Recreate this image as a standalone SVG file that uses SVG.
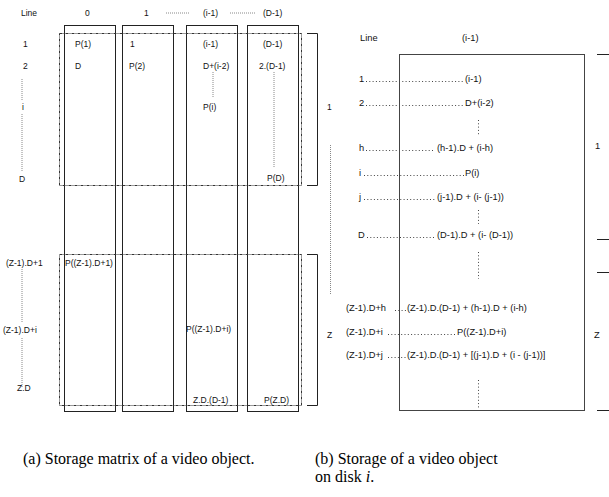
<svg xmlns="http://www.w3.org/2000/svg" width="609" height="497" viewBox="0 0 609 497">
<style>
.t{font-family:"Liberation Sans",Arial,sans-serif;font-size:8.5px;fill:#111}
.r{font-family:"Liberation Sans",Arial,sans-serif;font-size:9.3px;fill:#111}
.cap{font-family:"Liberation Serif","Times New Roman",serif;font-size:16px;fill:#000}
.col{fill:none;stroke:#222;stroke-width:1}
.dash{fill:none;stroke:#333;stroke-width:1;stroke-dasharray:3,1,1,1}
.br{fill:none;stroke:#222;stroke-width:1}
.vd{stroke:#888;stroke-width:1;stroke-dasharray:1,1;fill:none}
.ld{stroke:#444;stroke-width:1;stroke-dasharray:1,2.3;fill:none}
</style>
<rect width="609" height="497" fill="#fff"/>

<g id="matrix">
  <g id="header-left">
    <text class="t" x="21" y="16">Line</text>
    <text class="t" x="85" y="16">0</text>
    <text class="t" x="144" y="16">1</text>
    <text class="t" x="203" y="16">(i-1)</text>
    <text class="t" x="263" y="16">(D-1)</text>
  </g>
  <g id="columns">
    <rect class="col" x="64.5" y="25.5" width="51" height="386"/>
    <rect class="col" x="122.5" y="25.5" width="51" height="386"/>
    <rect class="col" x="186.5" y="25.5" width="51" height="386"/>
    <rect class="col" x="247.5" y="25.5" width="51" height="386"/>
  </g>
  <g id="group1">
    <rect class="dash" x="59.5" y="33.5" width="242" height="152"/>
    <path class="br" d="M307 33.5H317.5V185.5H307"/>
    <text class="t" x="327" y="110">1</text>
  </g>
  <g id="groupZ">
    <rect class="dash" x="59.5" y="254.5" width="242" height="151"/>
    <path class="br" d="M307 254.5H317.5V405.5H307"/>
    <text class="t" x="327" y="338">Z</text>
  </g>
  <g id="row-labels">
    <text class="t" x="23" y="47">1</text>
    <text class="t" x="23" y="69">2</text>
    <text class="t" x="22" y="110">i</text>
    <text class="t" x="19" y="182">D</text>
    <text class="t" x="6" y="266">(Z-1).D+1</text>
    <text class="t" x="3" y="333">(Z-1).D+i</text>
    <text class="t" x="17" y="391">Z.D</text>
  </g>
  <g id="cells">
    <text class="t" x="75" y="47">P(1)</text>
    <text class="t" x="75" y="69">D</text>
    <text class="t" x="130" y="47">1</text>
    <text class="t" x="129" y="69">P(2)</text>
    <text class="t" x="203" y="47">(i-1)</text>
    <text class="t" x="203" y="69">D+(i-2)</text>
    <text class="t" x="203" y="110">P(i)</text>
    <text class="t" x="263" y="47">(D-1)</text>
    <text class="t" x="259" y="69">2.(D-1)</text>
    <text class="t" x="267" y="181">P(D)</text>
    <text class="t" x="65" y="266">P((Z-1).D+1)</text>
    <text class="t" x="186" y="332">P((Z-1).D+i)</text>
    <text class="t" x="193" y="403">Z.D.(D-1)</text>
    <text class="t" x="264" y="403">P(Z.D)</text>
  </g>
</g>

<g id="storage">
  <rect id="disk" class="col" x="399.5" y="54.5" width="185" height="356" style="stroke:#444"/>
  <text class="r" x="360" y="41">Line</text>
  <text class="r" x="462" y="41">(i-1)</text>
  <g id="rows-right">
    <text class="r" x="359" y="82">1</text><text class="r" x="465" y="82">(i-1)</text>
    <text class="r" x="359" y="106">2</text><text class="r" x="465" y="106">D+(i-2)</text>
    <text class="r" x="359" y="151">h</text><text class="r" x="437" y="151">(h-1).D + (i-h)</text>
    <text class="r" x="359" y="176">i</text><text class="r" x="465" y="176">P(i)</text>
    <text class="r" x="359" y="200">j</text><text class="r" x="437" y="200">(j-1).D + (i- (j-1))</text>
    <text class="r" x="358" y="238">D</text><text class="r" x="437" y="238">(D-1).D + (i- (D-1))</text>
    <text class="r" x="346" y="311">(Z-1).D+h</text><text class="r" x="407" y="311">(Z-1).D.(D-1) + (h-1).D + (i-h)</text>
    <text class="r" x="346" y="335">(Z-1).D+i</text><text class="r" x="457" y="335">P((Z-1).D+i)</text>
    <text class="r" x="346" y="358">(Z-1).D+j</text><text class="r" x="407" y="358">(Z-1).D.(D-1) + [(j-1).D + (i - (j-1))]</text>
  </g>
  <g id="bracket-right">
    <path class="br" d="M597 54.5H609M597 239.5H609M597 272.5H609M597 410.5H609"/>
    <text class="r" x="595" y="149">1</text>
    <text class="r" x="594" y="338">Z</text>
  </g>
</g>

<g id="connectors">
  <path class="vd" d="M22 79V100M22 114V172M22 269V323M22 338V388"/>
  <path class="vd" d="M213 72V98M274 72V168"/>
  <path class="vd" d="M166 13H190M230 13H255"/>
  <path class="vd" d="M330.5 145V295"/>
  <path class="ld" d="M366 81.5H464M366 105.5H464M366 150.5H434M364 175.5H464M364 199.5H436M367 237.5H436M395 310.5H406M388 334.5H456M388 357.5H406"/>
  <path class="ld" d="M478.5 120V135M478.5 210V224M478.5 252V279M478.5 380V408"/>
</g>

<g id="captions">
  <text class="cap" x="23" y="464">(a) Storage matrix of a video object.</text>
  <text class="cap" x="315" y="464">(b) Storage of a video object</text>
  <text class="cap" x="315" y="482">on disk <tspan font-style="italic">i</tspan>.</text>
</g>
</svg>
